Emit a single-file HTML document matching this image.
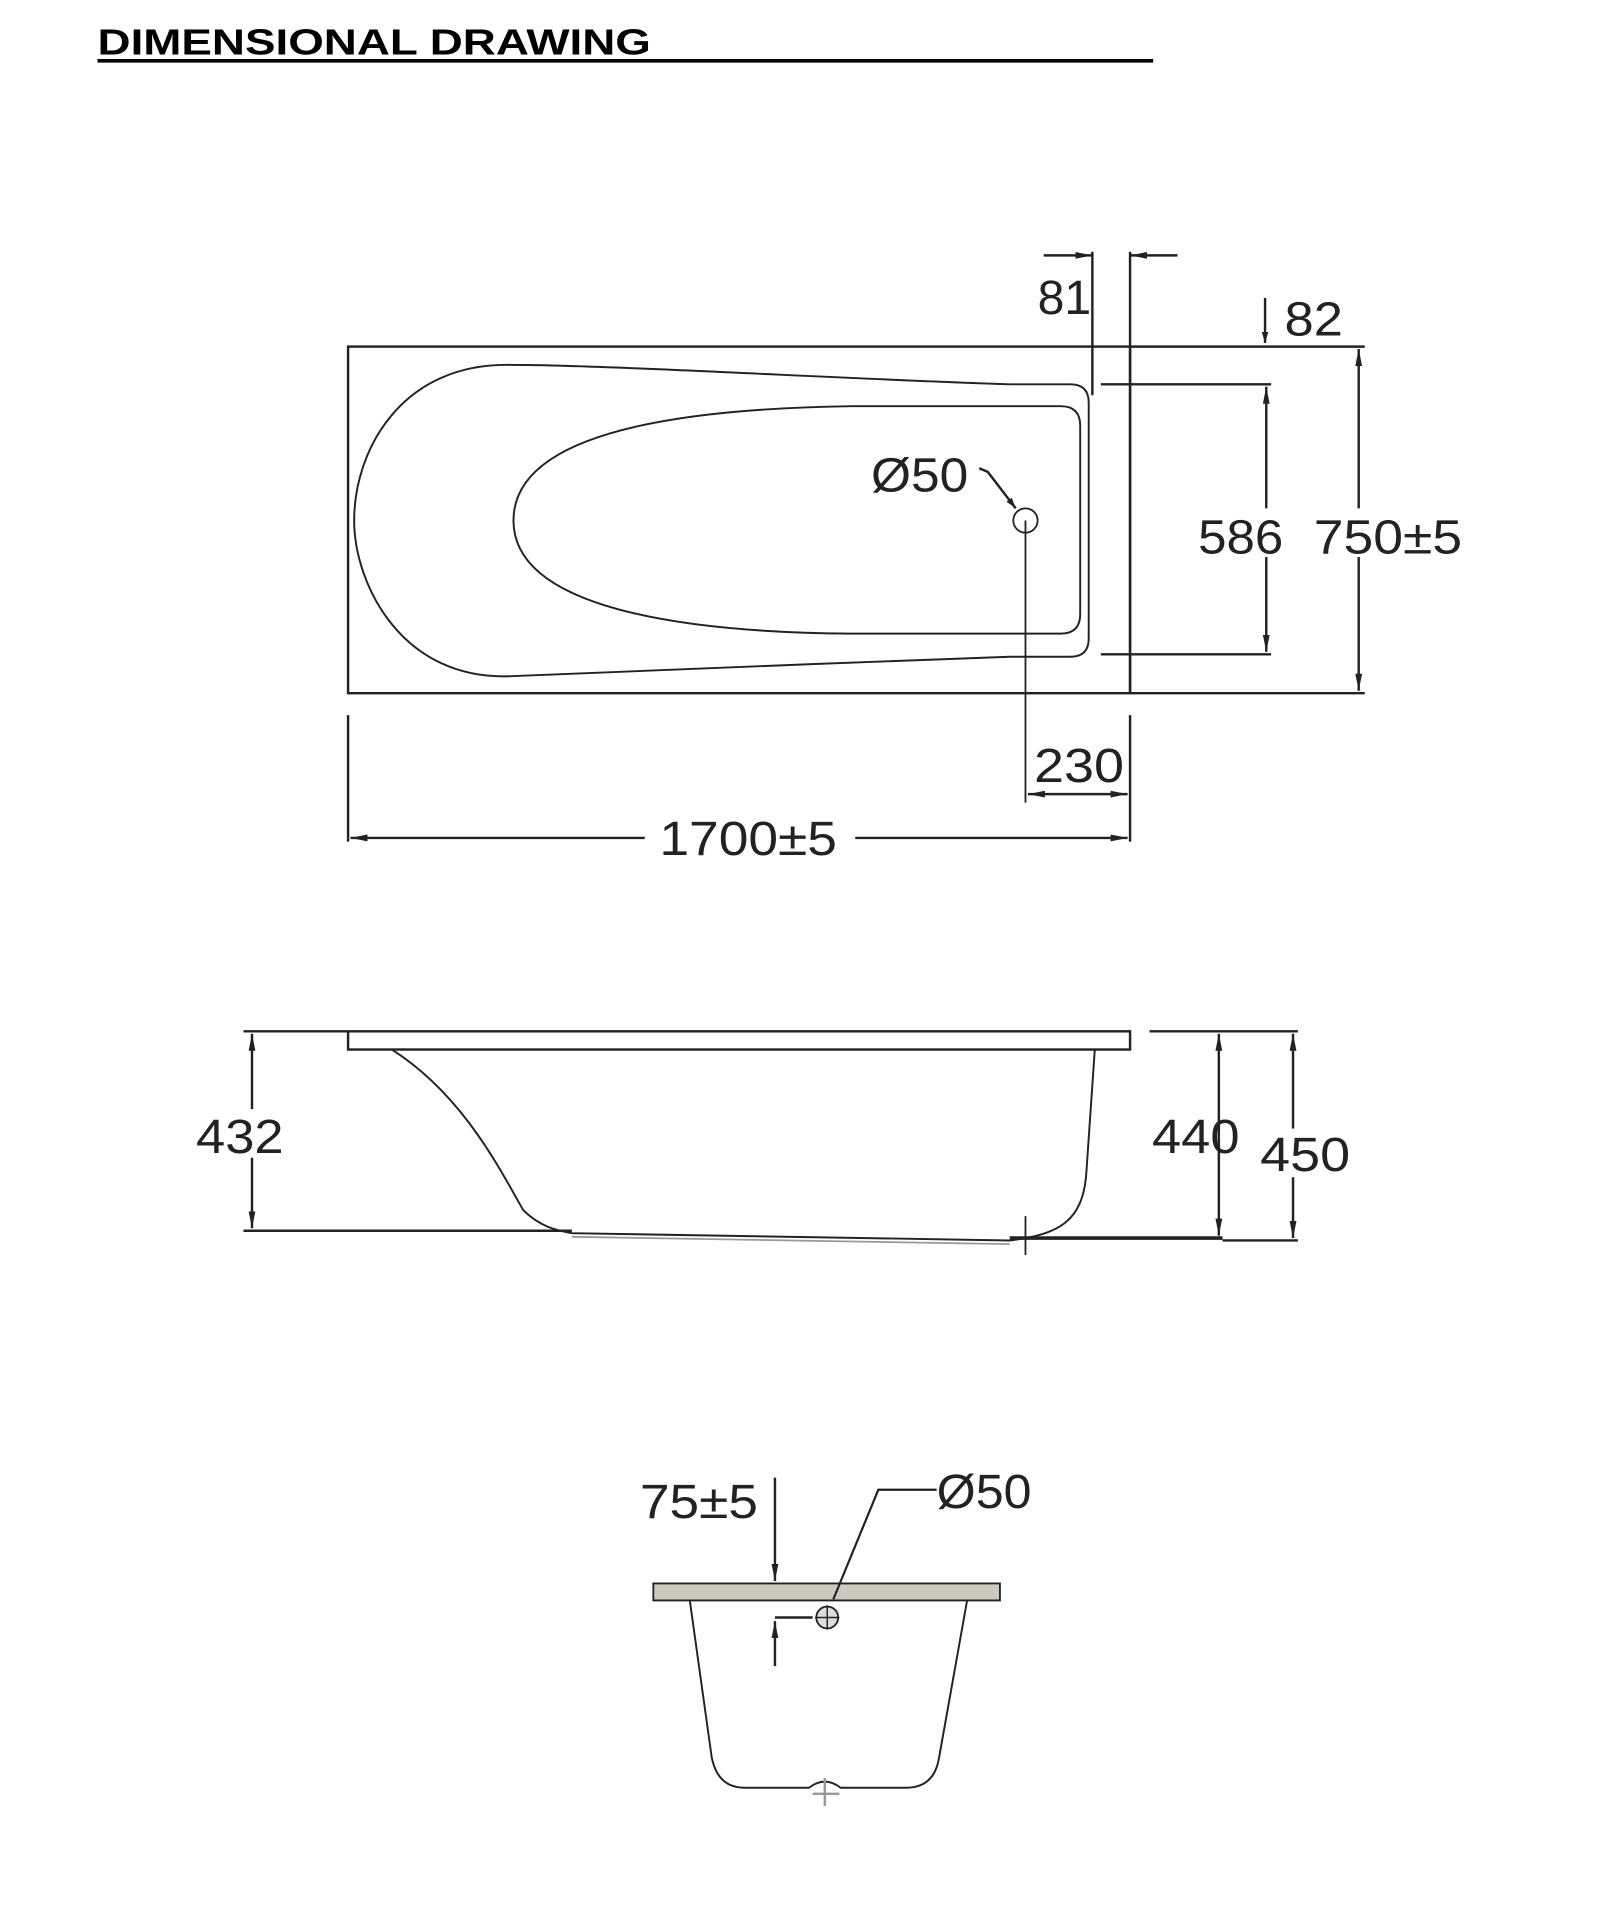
<!DOCTYPE html>
<html><head><meta charset="utf-8"><style>
html,body{margin:0;padding:0;background:#fff}
svg{display:block}
text{font-family:"Liberation Sans",sans-serif;fill:#222}
</style></head><body>
<svg width="1618" height="1913" viewBox="0 0 1330 1573" xmlns="http://www.w3.org/2000/svg">
<defs>
<marker id="a" viewBox="0 0 10 10" refX="10" refY="5" markerWidth="9" markerHeight="9" orient="auto-start-reverse" markerUnits="userSpaceOnUse"><path d="M0,2 L10,5 L0,8 Z" fill="#222"/></marker>
<marker id="b" viewBox="0 0 10 10" refX="10" refY="5" markerWidth="14" markerHeight="14" orient="auto-start-reverse" markerUnits="userSpaceOnUse"><path d="M0,3 L10,5 L0,7 Z" fill="#222"/></marker>
</defs>
<text x="80" y="45" font-size="30" font-weight="bold" textLength="455" lengthAdjust="spacingAndGlyphs" style="fill:#000">DIMENSIONAL DRAWING</text>
<line x1="80" y1="50" x2="948" y2="50" stroke="#000" stroke-width="3"/>

<g stroke="#222" stroke-width="2" fill="none">
<rect x="286" y="285" width="643" height="285"/>
<line x1="929" y1="285" x2="1122" y2="285"/>
<line x1="929" y1="570" x2="1122" y2="570"/>
<path d="M830,316 L880,316 Q895,316 895,331 L895,525 Q895,540 880,540 L830,540 C700,545 500,552 420,556 C330,560 291,480 291,428 C291,370 330,298 420,300 C500,300 700,312 830,316 Z" stroke-width="1.6"/>
<path d="M700,334 L872,334 Q888,334 888,350 L888,505 Q888,521 872,521 L700,521 C560,520 422,500 422,428 C422,355 560,336 700,334 Z" stroke-width="1.6"/>
<line x1="898" y1="207" x2="898" y2="325"/>
<line x1="929" y1="207" x2="929" y2="570"/>
<line x1="858" y1="210" x2="898" y2="210" marker-end="url(#b)"/>
<line x1="968" y1="210" x2="929" y2="210" marker-end="url(#b)"/>
<line x1="1040" y1="245" x2="1040" y2="282" marker-end="url(#a)"/>
<line x1="905" y1="316" x2="1045" y2="316"/>
<line x1="905" y1="538" x2="1045" y2="538"/>
<line x1="1041" y1="318" x2="1041" y2="536" marker-start="url(#b)" marker-end="url(#b)"/>
<line x1="1117" y1="287" x2="1117" y2="568" marker-start="url(#b)" marker-end="url(#b)"/>
<circle cx="843" cy="428" r="10" stroke-width="1.5"/>
<line x1="843" y1="428" x2="843" y2="660" stroke-width="1.5"/>
<path d="M805,385 L812,388 L835,418" marker-end="url(#a)"/>
<line x1="845" y1="653" x2="927" y2="653" marker-start="url(#b)" marker-end="url(#b)"/>
<line x1="286" y1="588" x2="286" y2="692"/>
<line x1="929" y1="588" x2="929" y2="692"/>
<line x1="288" y1="689" x2="530" y2="689" marker-start="url(#b)"/>
<line x1="703" y1="689" x2="927" y2="689" marker-end="url(#b)"/>

<rect x="286" y="848" width="643" height="15"/>
<line x1="200" y1="848" x2="286" y2="848"/>
<line x1="200" y1="1012" x2="470" y2="1012"/>
<path d="M322,863 C380,900 410,960 430,995 C445,1010 460,1012 470,1014 L830,1020 C870,1015 890,1005 893,965 L900,863" stroke-width="1.6"/>
<path d="M470,1017 L830,1023" stroke="#999" stroke-width="1.5"/>
<line x1="843" y1="1000" x2="843" y2="1032" stroke-width="1.5"/>
<line x1="830" y1="1018" x2="1005" y2="1018" stroke-width="3"/>
<line x1="945" y1="848" x2="1067" y2="848"/>
<line x1="1005" y1="1020" x2="1067" y2="1020"/>
<line x1="207" y1="850" x2="207" y2="1010" marker-start="url(#b)" marker-end="url(#b)"/>
<line x1="1002" y1="850" x2="1002" y2="1016" marker-start="url(#b)" marker-end="url(#b)"/>
<line x1="1063" y1="850" x2="1063" y2="1018" marker-start="url(#b)" marker-end="url(#b)"/>

<path d="M537,1302 L822,1302 L822,1316 L795,1316 L567,1316 L537,1316 Z" fill="#ccc8bd" stroke-width="1.5"/>
<path d="M567,1316 L585,1445 Q590,1470 612,1470 L665,1470 Q678,1460 691,1470 L745,1470 Q768,1470 772,1445 L795,1316" stroke-width="1.6"/>
<line x1="678" y1="1462" x2="678" y2="1485" stroke="#999"/>
<line x1="668" y1="1475" x2="690" y2="1475" stroke="#999"/>
<circle cx="680" cy="1330" r="9" fill="#ddd" stroke-width="1.5"/>
<line x1="670" y1="1330" x2="690" y2="1330" stroke-width="1.2"/>
<line x1="680" y1="1320" x2="680" y2="1340" stroke-width="1.2"/>
<path d="M770,1225 L722,1225 L685,1315" stroke-width="1.8"/>
<line x1="637" y1="1215" x2="637" y2="1300" marker-end="url(#b)"/>
<line x1="637" y1="1330" x2="668" y2="1330"/>
<line x1="637" y1="1370" x2="637" y2="1333" marker-end="url(#b)"/>
</g>

<g font-size="40">
<text x="853" y="258" textLength="44" lengthAdjust="spacingAndGlyphs">81</text>
<text x="1056" y="276" textLength="48" lengthAdjust="spacingAndGlyphs">82</text>
<text x="716" y="404" textLength="80" lengthAdjust="spacingAndGlyphs">Ø50</text>
<rect x="985" y="418" width="70" height="40" fill="#fff"/>
<text x="985" y="455" textLength="70" lengthAdjust="spacingAndGlyphs">586</text>
<rect x="1080" y="418" width="122" height="40" fill="#fff"/>
<text x="1080" y="455" textLength="122" lengthAdjust="spacingAndGlyphs">750±5</text>
<text x="850" y="643" textLength="74" lengthAdjust="spacingAndGlyphs">230</text>
<text x="542" y="703" textLength="146" lengthAdjust="spacingAndGlyphs">1700±5</text>
<rect x="160" y="912" width="72" height="40" fill="#fff"/>
<text x="161" y="948" textLength="72" lengthAdjust="spacingAndGlyphs">432</text>
<text x="947" y="948" textLength="72" lengthAdjust="spacingAndGlyphs">440</text>
<rect x="1036" y="928" width="74" height="40" fill="#fff"/>
<text x="1036" y="963" textLength="74" lengthAdjust="spacingAndGlyphs">450</text>
<text x="770" y="1240" textLength="78" lengthAdjust="spacingAndGlyphs">Ø50</text>
<text x="526" y="1248" textLength="97" lengthAdjust="spacingAndGlyphs">75±5</text>
</g>
</svg>
</body></html>
